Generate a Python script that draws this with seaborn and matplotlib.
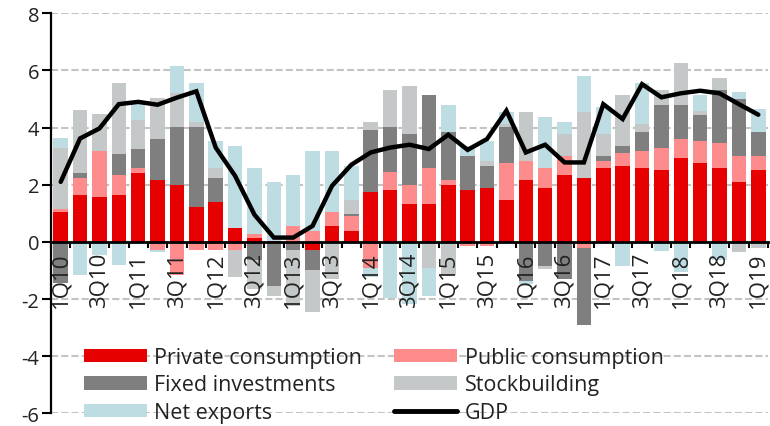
import numpy as np
import pandas as pd
import matplotlib
matplotlib.use("Agg")
import matplotlib.pyplot as plt
import seaborn as sns
from matplotlib.patches import Patch
from matplotlib.lines import Line2D

quarters = ["1Q10", "2Q10", "3Q10", "4Q10", "1Q11", "2Q11", "3Q11", "4Q11",
            "1Q12", "2Q12", "3Q12", "4Q12", "1Q13", "2Q13", "3Q13", "4Q13",
            "1Q14", "2Q14", "3Q14", "4Q14", "1Q15", "2Q15", "3Q15", "4Q15",
            "1Q16", "2Q16", "3Q16", "4Q16", "1Q17", "2Q17", "3Q17", "4Q17",
            "1Q18", "2Q18", "3Q18", "4Q18", "1Q19"]

private_consumption = [1.05, 1.63, 1.58, 1.63, 2.42, 2.16, 1.98, 1.23,
                       1.40, 0.47, 0.15, 0.02, 0.00, -0.29, 0.56, 0.39,
                       1.75, 1.82, 1.31, 1.31, 2.00, 1.82, 1.90, 1.47,
                       2.17, 1.90, 2.35, 2.23, 2.59, 2.66, 2.59, 2.50,
                       2.93, 2.77, 2.59, 2.09, 2.50]
public_consumption = [0.09, 0.62, 1.60, 0.71, 0.17, -0.28, -1.16, -0.30,
                      -0.30, -0.30, 0.14, -0.05, 0.54, 0.39, 0.49, 0.50,
                      -0.90, 0.61, 0.67, 1.28, 0.16, -0.14, -0.14, 1.29,
                      0.67, 0.68, 0.66, -0.20, 0.25, 0.45, 0.60, 0.77,
                      0.68, 0.76, 0.87, 0.92, 0.51]
fixed_investments = [-1.45, 0.17, 0.00, 0.75, 0.67, 1.44, 2.05, 2.80,
                     0.83, 0.00, -0.65, -1.50, -0.29, -0.68, 0.00, 0.07,
                     2.16, 1.60, 1.79, 2.56, 1.70, 1.19, 0.76, 1.27,
                     -1.37, -0.84, -1.31, -2.71, 0.16, 0.25, 0.66, 1.53,
                     1.19, 0.92, 1.86, 1.99, 0.85]
stockbuilding = [2.13, 2.20, 1.28, 2.47, 1.01, 1.45, 1.19, 0.16,
                 0.36, -0.93, -1.00, -0.35, -1.95, -1.50, -1.31, 0.51,
                 0.29, 1.29, 1.70, -0.90, -1.17, 0.00, 0.18, 0.10,
                 1.69, -0.12, 0.78, 2.30, 0.79, 1.79, 0.27, 0.52,
                 1.45, 0.12, 0.41, -0.37, -0.22]
net_exports = [0.35, -1.16, -0.47, -0.81, 0.55, -0.09, 0.93, 1.37,
               0.94, 2.88, 2.30, 2.08, 1.80, 2.80, 2.14, 1.19,
               -0.33, -1.98, -2.16, -1.01, 0.94, 0.34, 0.69, 0.40,
               -0.12, 1.80, 0.42, 1.28, 0.92, -0.86, 1.45, -0.32,
               -1.05, 0.57, -0.63, 0.23, 0.79]
gdp = [2.10, 3.62, 3.97, 4.82, 4.90, 4.80, 5.05, 5.27,
       3.30, 2.31, 0.95, 0.15, 0.15, 0.56, 1.96, 2.70,
       3.13, 3.30, 3.40, 3.25, 3.75, 3.22, 3.60, 4.59,
       3.13, 3.40, 2.78, 2.78, 4.82, 4.30, 5.52, 5.06,
       5.20, 5.29, 5.20, 4.82, 4.45]

series_names = ["Private consumption", "Public consumption", "Fixed investments",
                "Stockbuilding", "Net exports"]
series_values = [private_consumption, public_consumption, fixed_investments,
                 stockbuilding, net_exports]
series_colors = ["#e60000", "#ff8c8c", "#7f7f7f", "#c5c8c9", "#bddde3"]

yticks = [-6, -4, -2, 0, 2, 4, 6, 8]
xlabels_shown = quarters[::2]

sns.set_theme(style="white")
plt.rcParams["font.family"] = ["Open Sans", "DejaVu Sans"]
text_color = "#222222"

fig = plt.figure(figsize=(7.7, 4.27), dpi=100)
ax = fig.add_axes([51 / 770, 1 - 414.3 / 427, (768 - 51) / 770, (414.3 - 14.3) / 427])

# dashed horizontal grid behind the bars
for t in yticks:
    if t != 0:
        ax.axhline(t, color="#c3c3c3", linewidth=1.5, linestyle=(0, (3.4, 1.5)),
                   zorder=0.5)

n = len(quarters)
pos_base = np.zeros(n)
neg_base = np.zeros(n)
for name, vals, col in zip(series_names, series_values, series_colors):
    v = np.array(vals, dtype=float)
    bottoms = np.where(v >= 0, pos_base, neg_base)
    df = pd.DataFrame({"q": quarters, "v": v})
    sns.barplot(data=df, x="q", y="v", order=quarters, color=col, saturation=1,
                width=0.75, errorbar=None, bottom=bottoms, edgecolor="none",
                linewidth=0, ax=ax, zorder=2)
    pos_base = pos_base + np.where(v >= 0, v, 0)
    neg_base = neg_base + np.where(v < 0, v, 0)

sns.lineplot(x=np.arange(n), y=gdp, color="black", linewidth=3.2, ax=ax,
             zorder=4, solid_joinstyle="miter")

ax.set_xlim(-0.5, n - 0.5)
ax.set_ylim(-6, 8)
ax.set_xlabel("")
ax.set_ylabel("")

ax.set_axisbelow(False)
ax.grid(False)

# spines
for s in ["top", "right"]:
    ax.spines[s].set_visible(False)
ax.spines["left"].set_color("black")
ax.spines["left"].set_linewidth(1.6)
ax.spines["bottom"].set_position(("data", 0))
ax.spines["bottom"].set_color("black")
ax.spines["bottom"].set_linewidth(2.0)
ax.spines["bottom"].set_zorder(5)

# y ticks
ax.set_yticks(yticks)
ax.set_yticklabels([str(t) for t in yticks])
ax.tick_params(axis="y", which="major", direction="out", length=6.5, width=1.5,
               color="black", labelsize=14.5, labelcolor=text_color, pad=2, left=True)

# x ticks: labels every other quarter, tick marks between bars
ax.set_xticks(np.arange(0, n, 2))
ax.set_xticklabels(xlabels_shown, rotation=90, va="top", ha="center")
ax.set_xticks(np.arange(-0.5, n, 1), minor=True)
ax.tick_params(axis="x", which="major", length=0, labelsize=16,
               labelcolor=text_color, pad=7, bottom=True)
ax.tick_params(axis="x", which="minor", direction="out", length=4, width=1.5,
               color="black", bottom=True)
ax.xaxis.set_zorder(4.5)

# legend
handles = []
for name, col in zip(series_names, series_colors):
    handles.append(Patch(facecolor=col, edgecolor="none", label=name))
handles.append(Line2D([0], [0], color="black", linewidth=3.5, label="GDP"))
order = [0, 2, 4, 1, 3, 5]
leg = ax.legend(handles=[handles[i] for i in order], ncol=2, frameon=False,
                loc="upper left", bbox_to_anchor=(84 / 770, 1 - 348 / 427),
                bbox_transform=fig.transFigure, borderpad=0, borderaxespad=0,
                fontsize=15.5, handlelength=2.93, handleheight=0.59,
                handletextpad=0.33, columnspacing=1.5, labelspacing=0.3)
for t in leg.get_texts():
    t.set_color(text_color)

fig.savefig("out.png", dpi=100)
